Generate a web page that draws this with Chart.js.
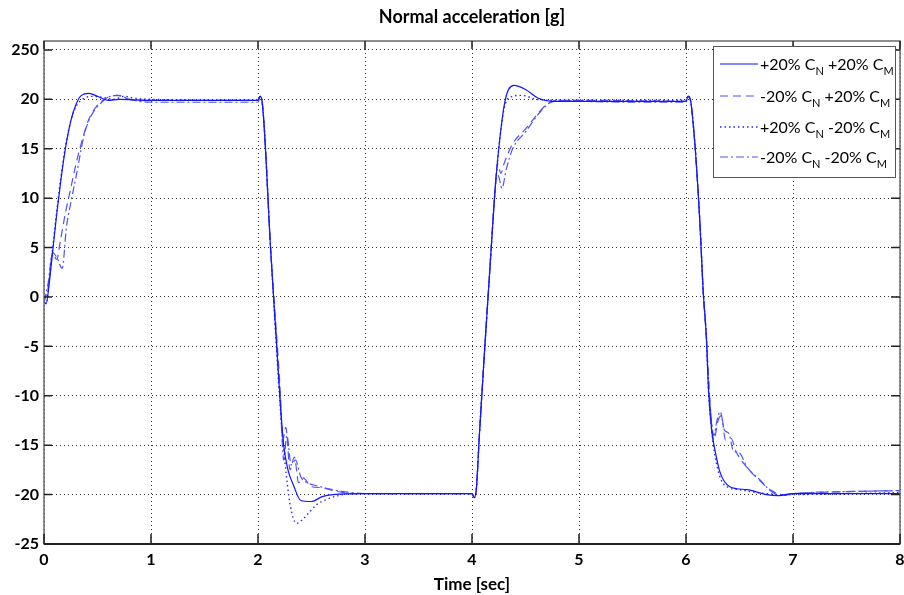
<!DOCTYPE html>
<html>
<head>
<meta charset="utf-8">
<script src="https://cdn.jsdelivr.net/npm/chart.js@4/dist/chart.umd.min.js"></script>
<style>
html,body{margin:0;padding:0;background:#fff;}
#wrap{width:904px;height:595px;position:relative;}
</style>
</head>
<body>
<div id="wrap"><canvas id="c" width="904" height="595"></canvas></div>
<script>
const chartTitle = 'Normal acceleration [g]';
const xAxisTitle = 'Time [sec]';
const xTicks = [0,1,2,3,4,5,6,7,8];
const xTickLabels = ['0','1','2','3','4','5','6','7','8'];
const yTicks = [-25,-20,-15,-10,-5,0,5,10,15,20,25];
const yTickLabels = ['-25','-20','-15','-10','-5','0','5','10','15','20','250'];

const tSolid = [0,0.02,0.05,0.08,0.12,0.16,0.2,0.25,0.3,0.35,0.42,0.5,0.6,0.7,1.0,1.5,2.0,
  2.02,2.035,2.12,2.21,2.24,2.28,2.33,2.4,2.5,2.6,2.7,3.0,3.5,4.0,
  4.02,4.04,4.07,4.12,4.15,4.18,4.21,4.25,4.31,4.39,4.5,4.62,4.75,5.0,5.5,6.0,
  6.02,6.04,6.08,6.13,6.16,6.19,6.21,6.24,6.28,6.32,6.41,6.57,6.75,6.87,7.0,7.5,8.0];
const vSolid = [-0.5,-0.7,1.5,4.5,8.5,12.0,15.0,17.8,19.5,20.4,20.6,20.3,19.9,20.0,19.9,19.9,19.9,
  20.3,20.0,4.5,-11.0,-15.0,-17.5,-19.0,-20.6,-20.7,-20.2,-20.0,-19.9,-19.9,-19.9,
  -20.3,-19.5,-13.8,-5.0,0.0,5.0,10.0,15.0,19.9,21.4,21.0,20.1,19.8,19.8,19.8,19.8,
  20.3,20.0,15.9,7.5,0.7,-4.0,-9.4,-13.5,-16.0,-17.8,-19.2,-19.5,-20.0,-20.1,-19.9,-19.9,-19.9];

const tDash = [0,0.04,0.08,0.12,0.15,0.2,0.25,0.3,0.36,0.42,0.5,0.58,0.68,0.8,1.0,2.0,
  2.02,2.035,2.12,2.21,2.23,2.26,2.3,2.34,2.38,2.42,2.5,2.6,2.7,2.9,4.0,
  4.02,4.04,4.07,4.12,4.15,4.18,4.21,4.24,4.27,4.3,4.38,4.5,4.62,4.7,4.8,5.0,6.0,
  6.02,6.04,6.08,6.13,6.16,6.19,6.22,6.26,6.3,6.33,6.37,6.42,6.47,6.55,6.68,6.8,6.9,7.0,7.5,8.0];
const vDash = [-0.5,1.0,4.3,3.8,5.5,8.5,11.0,13.5,16.0,18.0,19.4,20.1,20.4,20.0,19.9,19.9,
  20.3,20.0,4.5,-10.0,-14.5,-13.2,-17.5,-16.2,-18.8,-18.3,-19.2,-19.3,-19.6,-19.9,-19.9,
  -20.3,-19.5,-13.8,-5.0,0.0,5.0,10.0,13.5,12.5,13.5,15.5,17.0,18.6,19.5,19.9,19.9,19.8,
  20.3,20.0,15.9,7.5,0.7,-4.0,-10.0,-14.5,-12.5,-12.0,-14.5,-14.3,-15.7,-17.0,-18.5,-19.6,-20.0,-19.9,-19.7,-19.6];

const tDot = [0,0.02,0.05,0.08,0.12,0.16,0.2,0.25,0.3,0.36,0.45,0.55,0.65,0.75,0.85,1.0,2.0,
  2.02,2.035,2.12,2.21,2.25,2.3,2.36,2.42,2.47,2.55,2.64,2.75,2.9,4.0,
  4.02,4.04,4.07,4.12,4.15,4.18,4.21,4.25,4.31,4.38,4.47,4.6,4.8,6.0,
  6.02,6.04,6.08,6.13,6.16,6.19,6.21,6.24,6.27,6.32,6.4,6.5,6.6,6.75,6.9,8.0];
const vDot = [-0.5,-0.6,1.8,4.8,8.8,12.3,15.2,17.8,19.3,20.0,20.3,20.2,20.0,20.3,20.1,20.0,19.9,
  20.3,20.0,4.5,-11.5,-16.5,-21.0,-22.9,-22.5,-21.9,-21.0,-20.5,-20.1,-19.9,-19.9,
  -20.3,-19.5,-13.8,-5.0,0.0,5.0,10.0,15.0,19.5,20.3,20.4,20.0,19.9,19.9,
  20.3,20.0,15.9,7.5,0.7,-4.0,-9.4,-13.5,-16.0,-18.3,-19.3,-19.5,-19.7,-19.9,-20.0,-19.8];

const tDashDot = [0,0.04,0.08,0.12,0.17,0.21,0.25,0.3,0.38,0.46,0.55,0.62,0.7,0.8,1.0,2.0,
  2.02,2.035,2.12,2.21,2.24,2.27,2.31,2.35,2.4,2.46,2.55,2.65,2.8,3.0,4.0,
  4.02,4.04,4.07,4.12,4.15,4.18,4.21,4.23,4.25,4.28,4.32,4.38,4.5,4.62,4.72,4.85,5.0,6.0,
  6.02,6.04,6.08,6.13,6.16,6.19,6.22,6.26,6.29,6.32,6.36,6.4,6.44,6.5,6.57,6.69,6.81,6.9,7.0,7.5,8.0];
const vDashDot = [-0.5,1.5,4.5,4.0,2.9,7.1,9.5,12.2,16.6,18.7,19.8,20.3,20.4,20.0,19.7,19.7,
  20.3,20.0,4.5,-11.0,-16.5,-14.0,-17.0,-16.5,-18.2,-18.8,-19.1,-19.4,-19.7,-19.9,-19.9,
  -20.3,-19.5,-13.8,-5.0,0.0,5.0,10.0,12.5,12.2,11.0,12.9,15.0,16.7,18.5,19.6,19.9,19.8,19.7,
  20.3,20.0,15.9,7.5,0.7,-4.0,-10.0,-14.0,-12.5,-11.6,-13.5,-13.8,-15.5,-15.8,-17.2,-18.5,-19.8,-20.1,-19.9,-19.7,-19.6];

const seriesNames = [
  ['+20% C','N',' +20% C','M'],
  ['-20% C','N',' +20% C','M'],
  ['+20% C','N',' -20% C','M'],
  ['-20% C','N',' -20% C','M']
];

const styles = [
  {color:'rgb(20,20,255)', dash:[], width:1.2},
  {color:'rgb(80,80,255)', dash:[8,5], width:1.2},
  {color:'rgb(40,40,255)', dash:[1.5,3], width:1.4},
  {color:'rgb(80,80,255)', dash:[8,3,2,3], width:1.2}
];
const seriesT = [tSolid,tDash,tDot,tDashDot];
const seriesV = [vSolid,vDash,vDot,vDashDot];

const datasets = seriesT.map((ts,k)=>({
  label: seriesNames[k].join(''),
  data: ts.map((t,i)=>({x:t,y:seriesV[k][i]})),
  borderColor: styles[k].color,
  borderWidth: styles[k].width,
  borderDash: styles[k].dash,
  pointRadius: 0,
  fill: false,
  cubicInterpolationMode: 'monotone'
}));

const tickFont = {family:'Lato', size:16, weight:'bold'};

const framePlugin = {
  id:'frame',
  afterDraw(chart){
    const {ctx, chartArea:a, scales:{x,y}} = chart;
    ctx.save();
    ctx.fillStyle = '#000';
    ctx.font = 'bold 18px Lato';
    ctx.textAlign = 'center';
    ctx.textBaseline = 'middle';
    ctx.fillText(chartTitle, (a.left+a.right)/2, 17);
    ctx.strokeStyle = '#6a6a6a';
    ctx.lineWidth = 1.5;
    ctx.strokeRect(a.left, a.top, a.right-a.left, a.bottom-a.top);
    ctx.strokeStyle = '#222';
    ctx.lineWidth = 2;
    ctx.beginPath(); ctx.moveTo(a.left, a.bottom); ctx.lineTo(a.right, a.bottom); ctx.stroke();
    ctx.strokeStyle = '#222';
    ctx.lineWidth = 1.5;
    ctx.beginPath();
    xTicks.forEach(v=>{
      const px = x.getPixelForValue(v);
      ctx.moveTo(px, a.bottom); ctx.lineTo(px, a.bottom-10);
      ctx.moveTo(px, a.top); ctx.lineTo(px, a.top+8);
    });
    yTicks.forEach(v=>{
      const py = y.getPixelForValue(v);
      ctx.moveTo(a.left, py); ctx.lineTo(a.left+8, py);
      ctx.moveTo(a.right, py); ctx.lineTo(a.right-9, py);
    });
    ctx.stroke();
    const lx = 713, ly = 46, lw = 182, lh = 131;
    ctx.fillStyle = '#fff';
    ctx.fillRect(lx, ly, lw, lh);
    ctx.strokeStyle = '#555';
    ctx.lineWidth = 1;
    ctx.strokeRect(lx+0.5, ly+0.5, lw, lh);
    const rows = [64, 96, 127, 157];
    rows.forEach((ry,k)=>{
      ctx.strokeStyle = styles[k].color;
      ctx.lineWidth = styles[k].width;
      ctx.setLineDash(styles[k].dash);
      ctx.beginPath(); ctx.moveTo(720, ry); ctx.lineTo(758, ry); ctx.stroke();
      ctx.setLineDash([]);
      ctx.fillStyle = '#000';
      ctx.textAlign = 'left';
      ctx.textBaseline = 'alphabetic';
      let cx = 760;
      seriesNames[k].forEach((p,j)=>{
        if (j%2===0){ ctx.font = '16px Lato'; ctx.fillText(p, cx, ry+6); }
        else { ctx.font = '11px Lato'; ctx.fillText(p, cx, ry+11); }
        cx += ctx.measureText(p).width;
      });
    });
    ctx.restore();
  }
};

new Chart(document.getElementById('c'), {
  type: 'line',
  data: { datasets },
  options: {
    responsive: false,
    animation: false,
    layout: { autoPadding: false, padding: {top: 41, right: 4, left: 0, bottom: 0} },
    plugins: { legend: {display:false}, title:{display:false}, tooltip:{enabled:false} },
    scales: {
      x: {
        type: 'linear', min: 0, max: 8,
        afterBuildTicks: s => { s.ticks = xTicks.map(v=>({value:v})); },
        afterFit: s => { s.height = 51; s.paddingLeft = 0; s.paddingRight = 0; },
        ticks: { font: tickFont, color:'#000', padding: 6, maxRotation:0, autoSkip:false,
          callback: (v) => xTickLabels[xTicks.indexOf(v)] },
        grid: { color:'#333', drawTicks:false, lineWidth:1 },
        border: { display:false, dash:[1,3] },
        title: { display:true, text: xAxisTitle, font:{family:'Lato', size:17, weight:'bold'}, color:'#000', padding:{top:0,bottom:0} }
      },
      y: {
        type: 'linear', min: -25, max: 25.9,
        afterBuildTicks: s => { s.ticks = yTicks.map(v=>({value:v})); },
        afterFit: s => { s.width = 44; s.paddingTop = 0; s.paddingBottom = 0; },
        ticks: { font: tickFont, color:'#000', padding: 5, autoSkip:false,
          callback: (v) => yTickLabels[yTicks.indexOf(v)] },
        grid: { color:'#333', drawTicks:false, lineWidth:1 },
        border: { display:false, dash:[1,3] }
      }
    }
  },
  plugins: [framePlugin]
});
</script>
</body>
</html>
